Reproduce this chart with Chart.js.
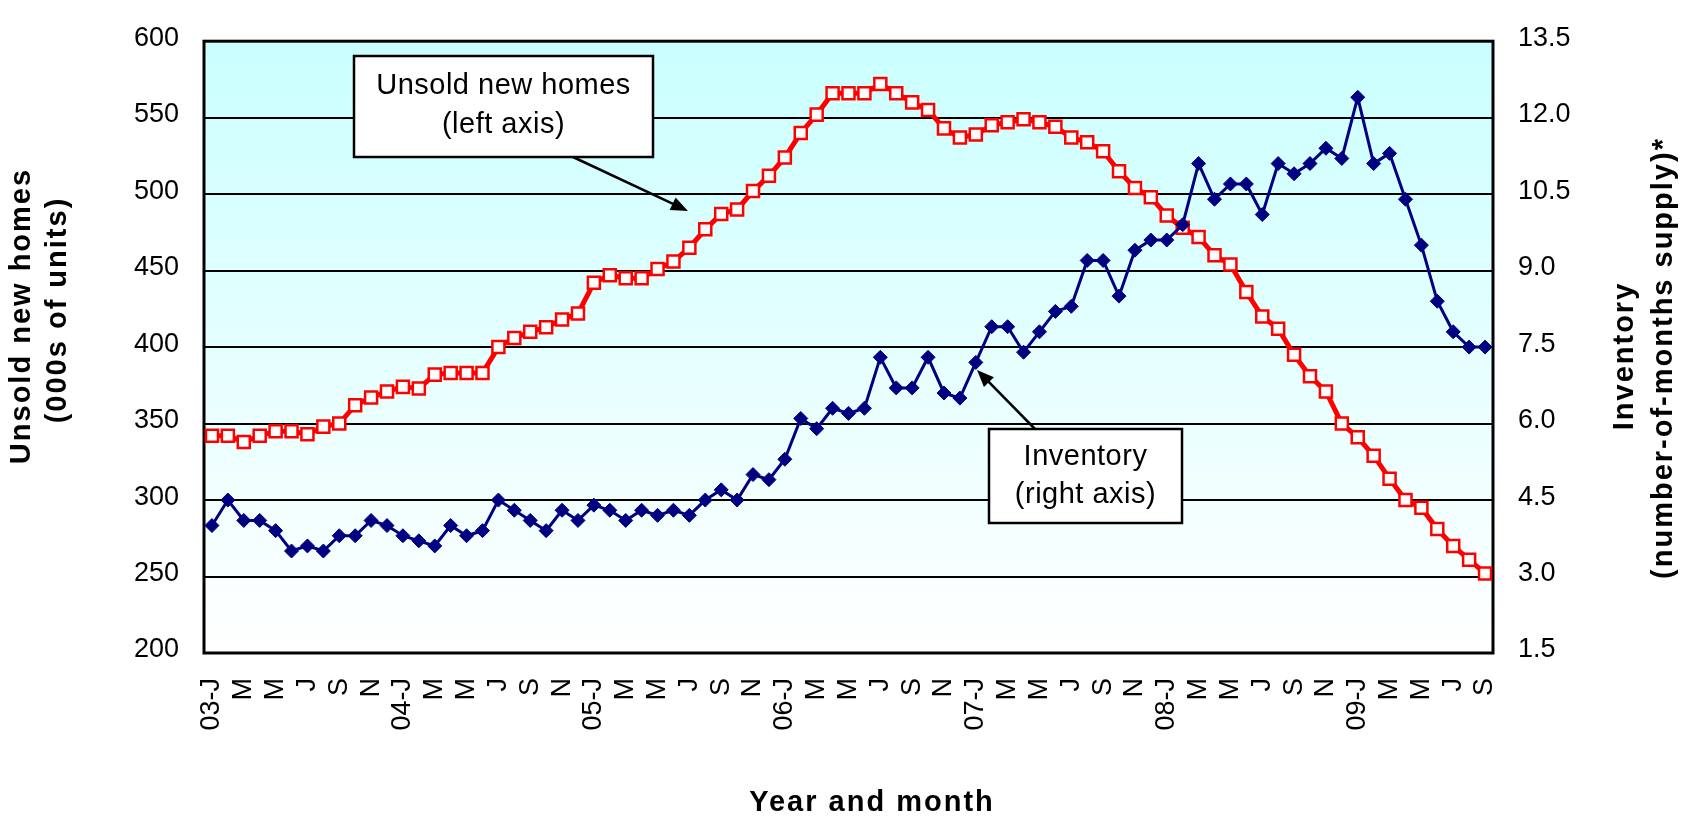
<!DOCTYPE html>
<html>
<head>
<meta charset="utf-8">
<script src="https://cdn.jsdelivr.net/npm/chart.js@4"></script>
<style>
  html, body { margin: 0; padding: 0; background: #ffffff; }
  #wrap { width: 1684px; height: 820px; position: relative; }
</style>
</head>
<body>
<div id="wrap"><canvas id="c"></canvas></div>
<script>
// ---- Data ----
const years = ['03', '04', '05', '06', '07', '08', '09'];
const monthInitials = ['J', 'F', 'M', 'A', 'M', 'J', 'J', 'A', 'S', 'O', 'N', 'D'];

// Unsold new homes (000s of units), Jan 2003 - Sep 2009 (left axis)
const unsoldHomes = [
  342, 342, 338, 342, 345, 345, 343, 348, 350, 362, 367, 371,
  374, 373, 382, 383, 383, 383, 400, 406, 410, 413, 418, 422,
  442, 447, 445, 445, 451, 456, 465, 477, 487, 490, 502, 512,
  524, 540, 552, 566, 566, 566, 572, 566, 560, 555, 543, 537,
  539, 545, 547, 549, 547, 544, 537, 534, 528, 515, 504, 498,
  486, 478, 472, 460, 454, 436, 420, 412, 395, 381, 371, 350,
  341, 329, 314, 300, 295, 281, 270, 261, 252
];

// Inventory (number-of-months supply), Jan 2003 - Sep 2009 (right axis)
const inventoryMonths = [
  4.0, 4.5, 4.1, 4.1, 3.9, 3.5, 3.6, 3.5, 3.8, 3.8, 4.1, 4.0,
  3.8, 3.7, 3.6, 4.0, 3.8, 3.9, 4.5, 4.3, 4.1, 3.9, 4.3, 4.1,
  4.4, 4.3, 4.1, 4.3, 4.2, 4.3, 4.2, 4.5, 4.7, 4.5, 5.0, 4.9,
  5.3, 6.1, 5.9, 6.3, 6.2, 6.3, 7.3, 6.7, 6.7, 7.3, 6.6, 6.5,
  7.2, 7.9, 7.9, 7.4, 7.8, 8.2, 8.3, 9.2, 9.2, 8.5, 9.4, 9.6,
  9.6, 9.9, 11.1, 10.4, 10.7, 10.7, 10.1, 11.1, 10.9, 11.1, 11.4, 11.2,
  12.4, 11.1, 11.3, 10.4, 9.5, 8.4, 7.8, 7.5, 7.5
];

const leftTicks = { min: 200, max: 600, step: 50 };
const rightTicks = { min: 1.5, max: 13.5, step: 1.5 };

// Categories: month-by-month from Jan 2003 to Sep 2009
const categories = [];
years.forEach(function (y) {
  monthInitials.forEach(function (m, i) {
    if (categories.length < unsoldHomes.length) categories.push({ year: y, month: i, initial: m });
  });
});
const categoryLabels = categories.map(function (c) { return c.year + '-' + c.initial; });

const FONT = '"Liberation Sans", Arial, Helvetica, sans-serif';

function drawText(ctx, text, x, y, font, spacing, angle) {
  ctx.save();
  ctx.translate(x, y);
  if (angle) ctx.rotate(angle);
  ctx.font = font;
  try { ctx.letterSpacing = spacing + 'px'; } catch (e) {}
  ctx.fillStyle = '#000';
  ctx.textAlign = 'center';
  ctx.textBaseline = 'middle';
  ctx.fillText(text, 0, 0);
  ctx.restore();
}

function drawArrow(ctx, x1, y1, x2, y2) {
  const ang = Math.atan2(y2 - y1, x2 - x1);
  const headLen = 17, headW = 7;
  ctx.save();
  ctx.strokeStyle = '#000';
  ctx.fillStyle = '#000';
  ctx.lineWidth = 2.5;
  ctx.beginPath();
  ctx.moveTo(x1, y1);
  ctx.lineTo(x2 - Math.cos(ang) * headLen * 0.8, y2 - Math.sin(ang) * headLen * 0.8);
  ctx.stroke();
  ctx.beginPath();
  ctx.moveTo(x2, y2);
  ctx.lineTo(x2 - Math.cos(ang) * headLen + Math.sin(ang) * headW, y2 - Math.sin(ang) * headLen - Math.cos(ang) * headW);
  ctx.lineTo(x2 - Math.cos(ang) * headLen - Math.sin(ang) * headW, y2 - Math.sin(ang) * headLen + Math.cos(ang) * headW);
  ctx.closePath();
  ctx.fill();
  ctx.restore();
}

function drawCallout(ctx, box, lines) {
  ctx.save();
  ctx.fillStyle = '#fff';
  ctx.strokeStyle = '#000';
  ctx.lineWidth = 2.5;
  ctx.fillRect(box.x, box.y, box.w, box.h);
  ctx.strokeRect(box.x, box.y, box.w, box.h);
  ctx.restore();
  lines.forEach(function (l) {
    drawText(ctx, l.text, box.x + box.w / 2, l.y, '29px ' + FONT, 0.5, 0);
  });
}

const decorPlugin = {
  id: 'decor',
  beforeDraw(chart) {
    const { ctx, chartArea: a } = chart;
    ctx.save();
    const g = ctx.createLinearGradient(0, a.top, 0, a.bottom);
    g.addColorStop(0, '#CAFFFF');
    g.addColorStop(1, '#FFFFFF');
    ctx.fillStyle = g;
    ctx.fillRect(a.left, a.top, a.right - a.left, a.bottom - a.top);
    ctx.restore();
  },
  beforeDatasetsDraw(chart) {
    const { ctx, chartArea: a } = chart;
    ctx.save();
    ctx.strokeStyle = '#000';
    ctx.lineWidth = 3;
    ctx.strokeRect(a.left, a.top, a.right - a.left, a.bottom - a.top);
    ctx.restore();
  },
  afterDraw(chart) {
    const ctx = chart.ctx;
    // Axis titles
    const tf = 'bold 29px ' + FONT;
    drawText(ctx, 'Unsold new homes', 22, 316, tf, 2, -Math.PI / 2);
    drawText(ctx, '(000s of units)', 58, 310, tf, 2, -Math.PI / 2);
    drawText(ctx, 'Inventory', 1625, 356, tf, 2, -Math.PI / 2);
    drawText(ctx, '(number-of-months supply)*', 1664, 358, tf, 2, -Math.PI / 2);
    drawText(ctx, 'Year and month', 872, 803, tf, 2, 0);

    // Callouts
    drawArrow(ctx, 573, 157, 688, 211);
    drawCallout(ctx, { x: 354, y: 56, w: 299, h: 101 }, [
      { text: 'Unsold new homes', y: 86 },
      { text: '(left axis)', y: 125 }
    ]);
    drawArrow(ctx, 1035, 429, 977, 370);
    drawCallout(ctx, { x: 989, y: 429, w: 193, h: 94 }, [
      { text: 'Inventory', y: 457 },
      { text: '(right axis)', y: 495 }
    ]);
  }
};

new Chart(document.getElementById('c'), {
  type: 'line',
  data: {
    labels: categoryLabels,
    datasets: [
      {
        label: 'Inventory (right axis)',
        data: inventoryMonths,
        yAxisID: 'y1',
        order: 0,
        borderColor: '#000080',
        backgroundColor: '#000080',
        borderWidth: 3,
        pointStyle: 'rectRot',
        pointRadius: 7,
        pointBorderWidth: 1,
        pointBackgroundColor: '#000080',
        pointBorderColor: '#000080',
        tension: 0
      },
      {
        label: 'Unsold new homes (left axis)',
        data: unsoldHomes,
        yAxisID: 'y',
        order: 1,
        borderColor: '#FF0000',
        backgroundColor: '#FFFFFF',
        borderWidth: 5,
        pointStyle: 'rect',
        pointRadius: 8.5,
        pointBorderWidth: 2.5,
        pointBackgroundColor: '#FFFFFF',
        pointBorderColor: '#FF0000',
        tension: 0
      }
    ]
  },
  options: {
    responsive: true,
    maintainAspectRatio: false,
    animation: false,
    events: [],
    layout: { padding: { top: 16, left: 0, right: 0, bottom: 0 } },
    plugins: {
      legend: { display: false },
      tooltip: { enabled: false },
      title: { display: false }
    },
    scales: {
      x: {
        type: 'category',
        offset: true,
        grid: { display: false, drawTicks: false },
        border: { display: false },
        ticks: {
          autoSkip: false,
          minRotation: 90,
          maxRotation: 90,
          padding: 25,
          color: '#000',
          font: { family: FONT, size: 27 },
          callback: function (value, index) {
            const c = categories[index];
            if (index % 2 !== 0) return '';
            return c.month === 0 ? c.year + '-' + c.initial : c.initial;
          }
        },
        afterFit: function (s) { s.height = 167; }
      },
      y: {
        position: 'left',
        min: leftTicks.min,
        max: leftTicks.max,
        grid: { color: '#000', lineWidth: 2, drawTicks: false },
        border: { display: false },
        ticks: {
          stepSize: leftTicks.step,
          padding: 25,
          labelOffset: -3,
          color: '#000',
          font: { family: FONT, size: 27 }
        },
        afterFit: function (s) { s.width = 204; }
      },
      y1: {
        position: 'right',
        min: rightTicks.min,
        max: rightTicks.max,
        grid: { display: false, drawTicks: false },
        border: { display: false },
        ticks: {
          stepSize: rightTicks.step,
          padding: 25,
          labelOffset: -3,
          color: '#000',
          font: { family: FONT, size: 27 },
          callback: function (v) { return Number(v).toFixed(1); }
        },
        afterFit: function (s) { s.width = 191; }
      }
    }
  },
  plugins: [decorPlugin]
});
</script>
</body>
</html>
